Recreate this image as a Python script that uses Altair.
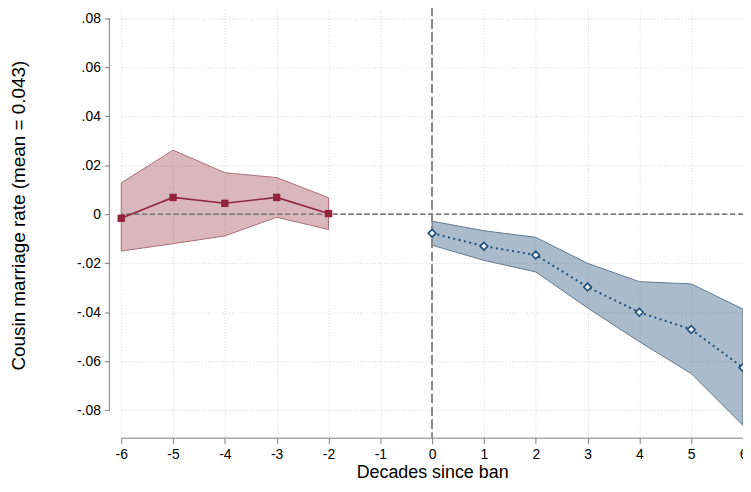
import altair as alt
import pandas as pd

# Pre-ban event-study estimates (decades -6..-2)
x_pre = [-6, -5, -4, -3, -2]
est_pre = [-0.0016, 0.0069, 0.0045, 0.0069, 0.0003]
hi_pre = [0.0128, 0.0262, 0.0170, 0.0150, 0.0068]
lo_pre = [-0.0150, -0.0120, -0.0088, -0.0012, -0.0062]

# Post-ban estimates (decades 0..6)
x_post = [0, 1, 2, 3, 4, 5, 6]
est_post = [-0.0077, -0.0130, -0.0166, -0.0297, -0.0400, -0.0470, -0.0626]
hi_post = [-0.0028, -0.0067, -0.0094, -0.0200, -0.0275, -0.0284, -0.0387]
lo_post = [-0.0126, -0.0188, -0.0235, -0.0382, -0.0520, -0.0650, -0.0862]

x_ticks = list(range(-6, 7))
y_ticks = [-0.08, -0.06, -0.04, -0.02, 0, 0.02, 0.04, 0.06, 0.08]

pre = pd.DataFrame({"x": x_pre, "est": est_pre, "hi": hi_pre, "lo": lo_pre})
post = pd.DataFrame({"x": x_post, "est": est_post, "hi": hi_post, "lo": lo_post})
yaxis_span = pd.DataFrame({"lo": [min(y_ticks)], "hi": [max(y_ticks)]})

FONT = "Liberation Sans"
RED = "#8c1d31"
BLUE = "#1f4e79"

xs = alt.Scale(domain=[-6, 6], nice=False, zero=False)
ys = alt.Scale(domain=[-0.0912, 0.0848], nice=False, zero=False)

x_axis = alt.Axis(
    values=x_ticks, title="Decades since ban", grid=True,
    gridDash=[1, 2], gridColor="#d6d6d6", gridWidth=1,
    domainColor="#808080", tickColor="#808080", tickSize=6,
    labelFontSize=14, labelFont=FONT, labelColor="#000000", labelPadding=4,
    labelExpr="'' + datum.value",
    titleFontSize=18, titleFont=FONT, titleFontWeight="normal",
    titleColor="#000000", titlePadding=2, labelFlush=False,
)
y_axis = alt.Axis(
    values=y_ticks, title="Cousin marriage rate (mean = 0.043)", grid=True,
    gridDash=[1, 2], gridColor="#d6d6d6", gridWidth=1,
    domain=False, tickColor="#808080", tickSize=5, offset=12,
    labelFontSize=14, labelFont=FONT, labelColor="#000000", labelPadding=4,
    labelExpr="datum.value == 0 ? '0' : replace(replace(format(datum.value, '.2f'), '0.', '.'), '\u2212', '-')",
    titleFontSize=19, titleFont=FONT, titleFontWeight="normal",
    titleColor="#000000", titlePadding=48, titleY=210,
)

area_pre = alt.Chart(pre).mark_area(
    color=RED, fillOpacity=0.32, stroke="#a8707a", strokeWidth=1
).encode(
    x=alt.X("x:Q", scale=xs, axis=x_axis),
    y=alt.Y("lo:Q", scale=ys, axis=y_axis),
    y2="hi:Q",
)
area_post = alt.Chart(post).mark_area(
    color=BLUE, fillOpacity=0.38, stroke="#62788d", strokeWidth=1
).encode(x=alt.X("x:Q", scale=xs), y=alt.Y("lo:Q", scale=ys), y2="hi:Q")

zero_line = alt.Chart(pre).mark_rule(
    color="#808080", strokeDash=[5, 3], strokeWidth=1.2
).encode(y=alt.datum(0, scale=ys))
ban_line = alt.Chart(pre).mark_rule(
    color="#8a8a8a", strokeDash=[9, 4], strokeWidth=1.6
).encode(x=alt.datum(0, scale=xs))

yaxis_line = alt.Chart(yaxis_span).mark_rule(color="#808080", strokeWidth=1).encode(
    x=alt.value(-12), y=alt.Y("lo:Q", scale=ys), y2="hi:Q"
)

line_pre = alt.Chart(pre).mark_line(color="#8e2a3e", strokeWidth=1.6).encode(
    x=alt.X("x:Q", scale=xs), y=alt.Y("est:Q", scale=ys)
)
pts_pre = alt.Chart(pre).mark_point(
    shape="square", filled=True, color="#94223a", size=55, opacity=1
).encode(x=alt.X("x:Q", scale=xs), y=alt.Y("est:Q", scale=ys))

line_post = alt.Chart(post).mark_line(
    color=BLUE, strokeWidth=2, strokeDash=[2, 3.5]
).encode(x=alt.X("x:Q", scale=xs), y=alt.Y("est:Q", scale=ys))
pts_post = alt.Chart(post).mark_point(
    shape="diamond", filled=True, fill="#eef2f6", stroke=BLUE, size=60,
    strokeWidth=1.6, opacity=1
).encode(x=alt.X("x:Q", scale=xs), y=alt.Y("est:Q", scale=ys))

chart = alt.layer(
    area_pre, area_post, zero_line, ban_line, yaxis_line,
    line_pre, pts_pre, line_post, pts_post,
).properties(
    width=626, height=434,
    padding={"left": 114, "top": -3, "right": 0, "bottom": 45},
    autosize=alt.AutoSizeParams(type="none"),
    background="white",
).configure_view(stroke=None)

chart.save("out.html", embed_options={"renderer": "svg", "actions": False})
